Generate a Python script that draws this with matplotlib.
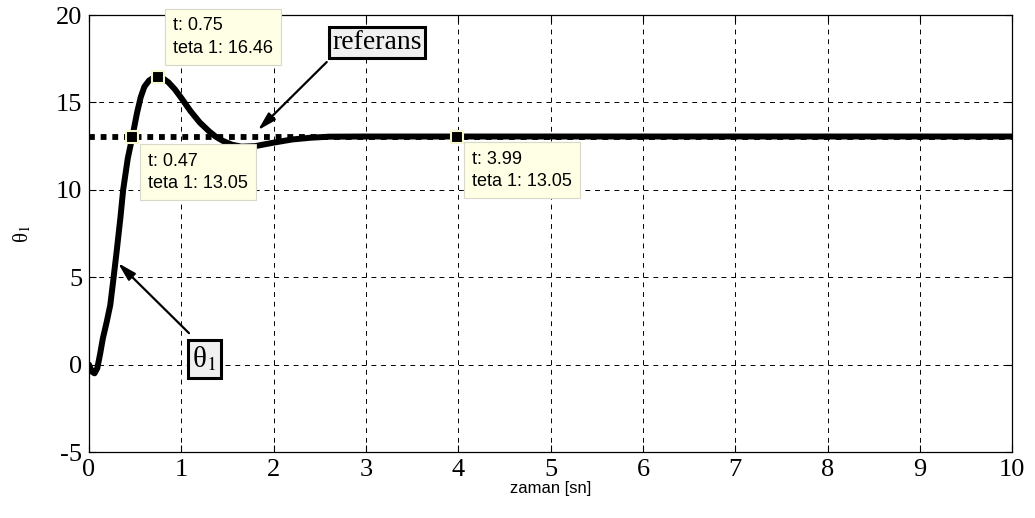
import numpy as np
import matplotlib
matplotlib.use("Agg")
import matplotlib.pyplot as plt

plt.rcParams['mathtext.fontset'] = 'stix'
plt.rcParams['axes.unicode_minus'] = False

# theta_1 response
t_vals = [0.0, 0.03, 0.06, 0.09, 0.12, 0.15, 0.19, 0.23, 0.26, 0.30, 0.34, 0.37,
          0.42, 0.47, 0.52, 0.56, 0.60, 0.65, 0.70, 0.75, 0.80, 0.86, 0.93, 1.00,
          1.10, 1.20, 1.30, 1.37, 1.45, 1.55, 1.65, 1.80, 2.00, 2.20, 2.40, 2.60,
          3.00, 4.00, 6.00, 8.00, 10.0]
theta_vals = [0.0, -0.4, -0.5, -0.2, 0.6, 1.5, 2.4, 3.4, 4.7, 6.5, 8.4, 10.0,
              11.8, 13.05, 14.4, 15.3, 15.9, 16.25, 16.42, 16.46, 16.38, 16.15, 15.75, 15.25,
              14.5, 13.85, 13.35, 13.05, 12.8, 12.58, 12.47, 12.5, 12.7, 12.88, 12.98, 13.04,
              13.05, 13.05, 13.05, 13.05, 13.05]

ref_t = [0, 10]
ref_val = [13, 13]

tip_t = [0.75, 0.47, 3.99]
tip_val = [16.46, 13.05, 13.05]
tip_labels = ["t: 0.75\nteta 1: 16.46", "t: 0.47\nteta 1: 13.05", "t: 3.99\nteta 1: 13.05"]

x_ticks = list(range(0, 11))
y_ticks = [-5, 0, 5, 10, 15, 20]

fig = plt.figure(figsize=(10.35, 5.18), dpi=100)
ax = fig.add_axes([0.086, 0.1274, 0.892, 0.8436])

ax.plot(ref_t, ref_val, color='black', lw=4.2, linestyle=(0, (1, 1)),
        dash_capstyle='butt', zorder=2)
ax.plot(t_vals, theta_vals, color='black', lw=4.3, solid_capstyle='round',
        solid_joinstyle='round', zorder=3)
ax.plot(tip_t, tip_val, 's', color='black', markersize=8.5,
        markeredgecolor='#f7f7d0', markeredgewidth=1.5, zorder=5, clip_on=False)

# data tips: (dx, dy) offsets in pixels from the marked point, and text anchoring
offsets = [(15, 20, 'bottom'), (16, -16, 'top'), (15, -14, 'top')]
for tx, ty, lab, (dx, dy, va) in zip(tip_t, tip_val, tip_labels, offsets):
    ax.annotate(lab, xy=(tx, ty), xytext=(dx * 0.72, dy * 0.72), textcoords='offset points',
                ha='left', va=va, fontsize=13, family='Liberation Sans', linespacing=1.45,
                bbox=dict(boxstyle='square,pad=0.45', fc='#ffffe6', ec='#d8d8c8', lw=0.8),
                zorder=6, annotation_clip=False)

# text arrows
ax.annotate('', xy=(1.83, 13.41), xytext=(2.575, 17.31),
            arrowprops=dict(arrowstyle='-|>,head_length=1.1,head_width=0.3', color='black',
                            lw=1.6, shrinkA=0, shrinkB=0), zorder=4)
ax.text(3.12, 18.43, 'referans', ha='center', va='center', fontsize=20,
        family='Liberation Serif', zorder=6,
        bbox=dict(boxstyle='square,pad=0.12', fc='#f0f0f0', ec='black', lw=2.2))

ax.annotate('', xy=(0.314, 5.81), xytext=(1.083, 1.8),
            arrowprops=dict(arrowstyle='-|>,head_length=1.1,head_width=0.3', color='black',
                            lw=1.6, shrinkA=0, shrinkB=0), zorder=4)
ax.text(1.25, 0.32, 'θ$_1$', ha='center', va='center', fontsize=21, zorder=6,
        family='Liberation Serif',
        bbox=dict(boxstyle='square,pad=0.15', fc='#f0f0f0', ec='black', lw=2.2))

ax.set_xlim(0, 10)
ax.set_ylim(-5, 20)
ax.set_xticks(x_ticks)
ax.set_yticks(y_ticks)
for lab in ax.get_xticklabels() + ax.get_yticklabels():
    lab.set_family('Liberation Serif')
    lab.set_fontsize(19)
ax.tick_params(direction='in', top=True, right=True, length=5, width=0.8)
ax.tick_params(axis='x', pad=5)
ax.tick_params(axis='y', pad=5)
ax.grid(True, color='black', linestyle=(0, (5, 5)), lw=0.7)
for s in ax.spines.values():
    s.set_linewidth(0.9)

ax.set_xlabel('zaman [sn]', fontsize=12, family='Liberation Sans', labelpad=0)
ax.set_ylabel('θ$_1$', fontsize=15, family='Liberation Serif', labelpad=16)

fig.savefig('out.png', dpi=100)
